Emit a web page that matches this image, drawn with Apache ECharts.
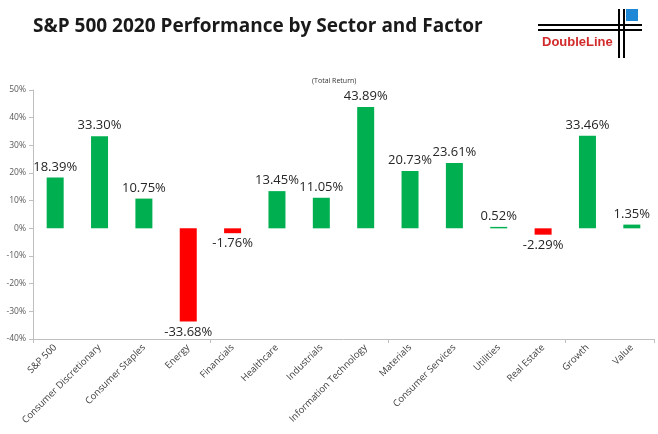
<!DOCTYPE html>
<html><head><meta charset="utf-8">
<script src="https://cdn.jsdelivr.net/npm/echarts@6/dist/echarts.min.js"></script>
<style>html,body{margin:0;padding:0;background:#fff}#c{width:658px;height:434px}</style>
</head><body><div id="c"></div>
<script>
const categories = ["S&P 500","Consumer Discretionary","Consumer Staples","Energy","Financials","Healthcare","Industrials","Information Technology","Materials","Consumer Services","Utilities","Real Estate","Growth","Value"];
const values = [18.39,33.30,10.75,-33.68,-1.76,13.45,11.05,43.89,20.73,23.61,0.52,-2.29,33.46,1.35];
const yTicks = [-40,-30,-20,-10,0,10,20,30,40,50];
const FONT = '"Open Sans", "Liberation Sans", sans-serif';

const chart = echarts.init(document.getElementById('c'));
const barData = values.map(v => ({
  value: v,
  itemStyle: {color: v >= 0 ? '#00b050' : '#ff0000'},
  label: {position: v >= 0 ? 'top' : 'bottom'}
}));
chart.setOption({
  animation: false,
  textStyle: {fontFamily: FONT},
  title: [{
    text: 'S&P 500 2020 Performance by Sector and Factor',
    left: 28, top: 12,
    textStyle: {fontSize: 19, fontWeight: 'bold', color: '#1a1a1a', fontFamily: FONT}
  },{
    text: '(Total Return)', left: 307, top: 72,
    textStyle: {fontSize: 7, fontWeight: 'normal', color: '#333', fontFamily: FONT}
  }],
  grid: {left: 33, right: 4, top: 90, bottom: 95, containLabel: false},
  xAxis: [{
    type: 'category', data: categories, position: 'bottom',
    axisLine: {show: false}, axisTick: {show: false},
    axisLabel: {rotate: 45, fontSize: 9.5, color: '#404040', margin: 7, interval: 0, fontFamily: FONT}
  },{
    type: 'category', data: categories, position: 'bottom',
    axisLine: {show: true, onZero: true, lineStyle: {color: '#bfbfbf', width: 1}},
    axisTick: {show: true, length: 4, inside: false, lineStyle: {color: '#bfbfbf'}},
    axisLabel: {show: false}
  }],
  yAxis: {
    type: 'value', min: -40, max: 50, interval: 10,
    axisLine: {show: true, lineStyle: {color: '#bfbfbf'}},
    axisTick: {show: true, length: 4, lineStyle: {color: '#bfbfbf'}},
    splitLine: {show: false},
    axisLabel: {fontSize: 8.5, color: '#595959', margin: 7, formatter: v => v + '%', fontFamily: FONT}
  },
  series: [{
    type: 'bar', data: barData, barWidth: 17, xAxisIndex: 0,
    label: {show: true, fontSize: 13, color: '#262626', distance: 4,
      formatter: p => p.value.toFixed(2) + '%', fontFamily: FONT}
  }],
  graphic: [
    {type: 'rect', shape: {x: 626, y: 9, width: 12, height: 12}, style: {fill: '#1e88d6'}},
    {type: 'line', shape: {x1: 538, y1: 25, x2: 642, y2: 25}, style: {stroke: '#000', lineWidth: 2}},
    {type: 'line', shape: {x1: 538, y1: 30, x2: 642, y2: 30}, style: {stroke: '#000', lineWidth: 2}},
    {type: 'line', shape: {x1: 619, y1: 9, x2: 619, y2: 58}, style: {stroke: '#000', lineWidth: 2}},
    {type: 'line', shape: {x1: 624, y1: 9, x2: 624, y2: 58}, style: {stroke: '#000', lineWidth: 2}},
    {type: 'text', left: 542, top: 36, style: {text: 'DoubleLine', fill: '#d22b2b', font: 'bold 13px "Liberation Sans", Arial, sans-serif'}}
  ]
});
</script></body></html>
